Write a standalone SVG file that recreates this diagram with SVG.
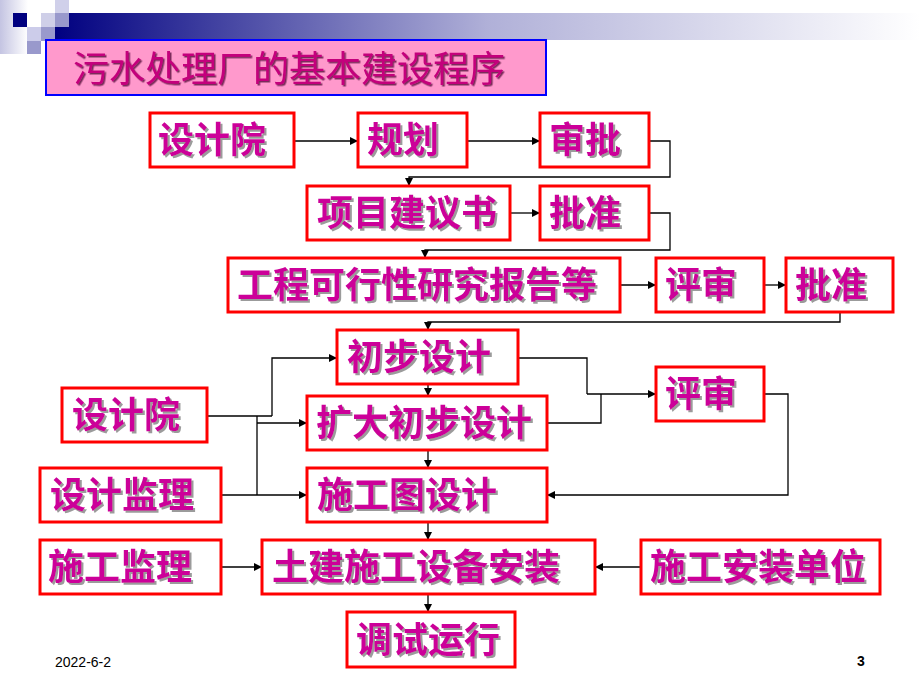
<svg xmlns="http://www.w3.org/2000/svg" width="920" height="690" viewBox="0 0 920 690">
<defs>
<linearGradient id="band" x1="55" y1="0" x2="920" y2="0" gradientUnits="userSpaceOnUse">
<stop offset="0" stop-color="#000080"/>
<stop offset="0.5" stop-color="#b0b0d8"/>
<stop offset="1" stop-color="#ffffff"/>
</linearGradient>
<linearGradient id="strip" x1="0" y1="0" x2="1" y2="0">
<stop offset="0" stop-color="#c4c4e2"/>
<stop offset="1" stop-color="#ffffff"/>
</linearGradient>
<filter id="sh" x="-5%" y="-20%" width="110%" height="140%">
<feDropShadow dx="2" dy="2" stdDeviation="0.7" flood-color="#8a8a8a" flood-opacity="0.85"/>
</filter>
<filter id="tsh" x="-5%" y="-20%" width="110%" height="140%">
<feDropShadow dx="1.5" dy="1.5" stdDeviation="0.4" flood-color="#5a1040" flood-opacity="0.8"/>
</filter>
<marker id="ah" viewBox="0 0 10 10" refX="10" refY="5" markerWidth="9" markerHeight="8" markerUnits="userSpaceOnUse" orient="auto">
<path d="M0,0 L10,5 L0,10 z" fill="#000"/>
</marker>
<style>
.box{fill:#ffffff;stroke:#ff0000;stroke-width:3}
.t{font-family:"Noto Sans CJK SC","Noto Sans",sans-serif;font-size:36px;font-weight:bold;fill:#cc0099;filter:url(#sh)}
.c{fill:none;stroke:#000;stroke-width:1.3}
.ca{fill:none;stroke:#000;stroke-width:1.3;marker-end:url(#ah)}
.ft{font-family:"Liberation Sans",Arial,sans-serif;font-size:14px;fill:#000}
</style>
</defs>
<rect width="920" height="690" fill="#ffffff"/>
<g id="decoration">
<rect x="0" y="0" width="28" height="54" fill="url(#strip)"/>
<rect x="55" y="13" width="865" height="27" fill="url(#band)"/>
<rect x="13" y="13" width="14" height="14" fill="#000080"/>
<rect x="41" y="13" width="14" height="14" fill="#cfcfe8"/>
<rect x="55" y="0" width="14" height="13" fill="#d0d0ea"/>
<rect x="55" y="13" width="14" height="14" fill="#9999cc"/>
<rect x="27" y="27" width="14" height="14" fill="#ccccea"/>
<rect x="41" y="27" width="14" height="14" fill="#9999cc"/>
<rect x="27" y="41" width="14" height="13" fill="#9999cc"/>
</g>
<g id="title">
<rect x="46" y="40" width="500" height="55" fill="#ff99cc" stroke="#0000ff" stroke-width="2"/>
<text x="73" y="82" font-family="Noto Sans CJK SC,sans-serif" font-size="36" fill="#c4007c" filter="url(#tsh)">污水处理厂的基本建设程序</text>
</g>
<g id="connectors">
<path class="ca" d="M294,141 H358"/>
<path class="ca" d="M467,141 H540"/>
<path class="ca" d="M649,141 H670 V177 H409 V186"/>
<path class="ca" d="M510,213 H540"/>
<path class="ca" d="M649,213 H670 V250 H425 V258"/>
<path class="ca" d="M620,285 H656"/>
<path class="ca" d="M764,285 H786"/>
<path class="ca" d="M840,312 V322 H428 V330"/>
<path class="c" d="M207,416 H272"/>
<path class="ca" d="M272,416 V358 H337"/>
<path class="c" d="M257,416 V495"/>
<path class="ca" d="M257,423 H307"/>
<path class="ca" d="M221,495 H307"/>
<path class="ca" d="M428,384 V396"/>
<path class="ca" d="M428,450 V468"/>
<path class="ca" d="M428,522 V540"/>
<path class="ca" d="M428,594 V612"/>
<path class="c" d="M518,358 H587 V394"/>
<path class="c" d="M547,423 H601 V394"/>
<path class="ca" d="M587,394 H656"/>
<path class="ca" d="M764,394 H788 V495 H547"/>
<path class="ca" d="M221,567 H262"/>
<path class="ca" d="M641,567 H595"/>
</g>
<g id="n1"><rect class="box" x="150" y="113" width="144" height="54"/><text class="t" x="158" y="153">设计院</text></g>
<g id="n2"><rect class="box" x="358" y="113" width="109" height="54"/><text class="t" x="367" y="153">规划</text></g>
<g id="n3"><rect class="box" x="540" y="113" width="109" height="54"/><text class="t" x="549" y="153">审批</text></g>
<g id="n4"><rect class="box" x="307" y="186" width="203" height="54"/><text class="t" x="317" y="226">项目建议书</text></g>
<g id="n5"><rect class="box" x="540" y="186" width="109" height="54"/><text class="t" x="549" y="226">批准</text></g>
<g id="n6"><rect class="box" x="228" y="258" width="392" height="54"/><text class="t" x="237" y="298">工程可行性研究报告等</text></g>
<g id="n7"><rect class="box" x="656" y="258" width="108" height="54"/><text class="t" x="665" y="298">评审</text></g>
<g id="n8"><rect class="box" x="786" y="258" width="107" height="54"/><text class="t" x="795" y="298">批准</text></g>
<g id="n9"><rect class="box" x="337" y="330" width="181" height="54"/><text class="t" x="347" y="370">初步设计</text></g>
<g id="n10"><rect class="box" x="656" y="367" width="108" height="54"/><text class="t" x="665" y="407">评审</text></g>
<g id="n11"><rect class="box" x="62" y="388" width="145" height="54"/><text class="t" x="72" y="428">设计院</text></g>
<g id="n12"><rect class="box" x="307" y="396" width="240" height="54"/><text class="t" x="316" y="436">扩大初步设计</text></g>
<g id="n13"><rect class="box" x="40" y="468" width="181" height="54"/><text class="t" x="50" y="508">设计监理</text></g>
<g id="n14"><rect class="box" x="307" y="468" width="240" height="54"/><text class="t" x="317" y="508">施工图设计</text></g>
<g id="n15"><rect class="box" x="40" y="540" width="181" height="54"/><text class="t" x="48" y="580">施工监理</text></g>
<g id="n16"><rect class="box" x="262" y="540" width="333" height="54"/><text class="t" x="272" y="580">土建施工设备安装</text></g>
<g id="n17"><rect class="box" x="641" y="540" width="239" height="54"/><text class="t" x="650" y="580">施工安装单位</text></g>
<g id="n18"><rect class="box" x="347" y="612" width="168" height="55"/><text class="t" x="356" y="653">调试运行</text></g>
<g id="footer">
<text class="ft" x="55" y="667">2022-6-2</text>
<text class="ft" x="857" y="666" font-weight="bold">3</text>
</g>
</svg>
